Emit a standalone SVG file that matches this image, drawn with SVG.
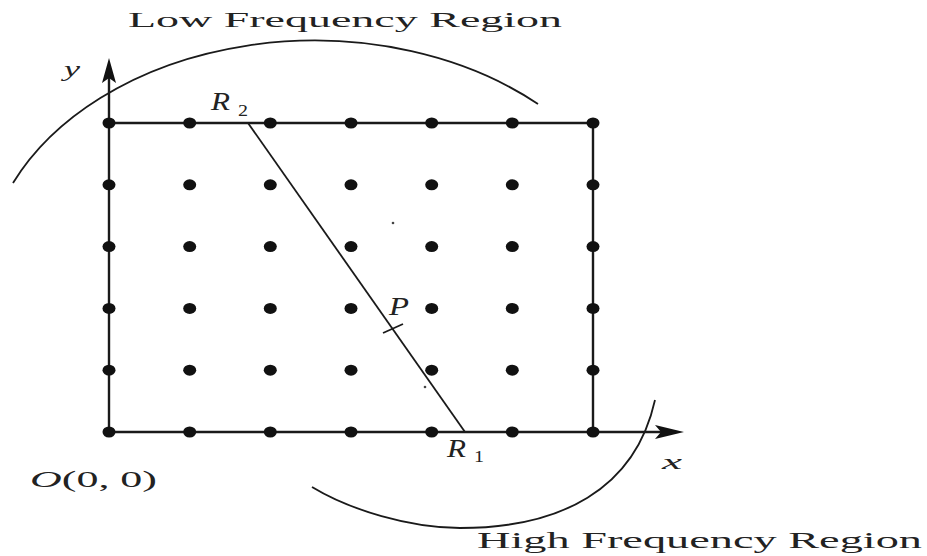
<svg xmlns="http://www.w3.org/2000/svg" width="927" height="556" viewBox="0 0 927 556">
<style>
.ln{stroke:#1a1a1a;stroke-width:2.4;fill:none}
.thin{stroke:#1a1a1a;stroke-width:1.8;fill:none}
.dot{fill:#111}
.ah{fill:#111}
.t{font-family:"Liberation Serif","DejaVu Serif",serif;fill:#222}
.it{font-style:italic}
</style>
<rect width="927" height="556" fill="#fff"/>
<g id="regions">
<path id="low-arc" class="thin" d="M13 183 A330 240 0 0 1 538 104"/>
<path id="high-arc" class="thin" d="M312 487 C350 510 410 528 460 528 C560 528 635 490 655 400"/>
</g>
<g id="connectors">
<line class="ln" x1="109" y1="432" x2="109" y2="76"/>
<line class="ln" x1="109" y1="432" x2="662" y2="432"/>
<polygon class="ah" points="109,58 102,83 109,78 116,83"/>
<polygon class="ah" points="684,432 655,425 661,432 655,439"/>
<line class="ln" x1="109" y1="123" x2="593" y2="123"/>
<line class="ln" x1="593" y1="123" x2="593" y2="432"/>
<line id="r2r1" class="thin" x1="248" y1="123" x2="465" y2="432"/>
<line id="p-mark" class="thin" x1="383" y1="333" x2="403" y2="324"/>
</g>
<g id="grid">
<g id="row1"><ellipse class="dot" cx="109" cy="123" rx="6.5" ry="5.5"/><ellipse class="dot" cx="189.7" cy="123" rx="6.5" ry="5.5"/><ellipse class="dot" cx="270.3" cy="123" rx="6.5" ry="5.5"/><ellipse class="dot" cx="351" cy="123" rx="6.5" ry="5.5"/><ellipse class="dot" cx="431.7" cy="123" rx="6.5" ry="5.5"/><ellipse class="dot" cx="512.3" cy="123" rx="6.5" ry="5.5"/><ellipse class="dot" cx="593" cy="123" rx="6.5" ry="5.5"/></g>
<g id="row2"><ellipse class="dot" cx="109" cy="184.8" rx="6.5" ry="5.5"/><ellipse class="dot" cx="189.7" cy="184.8" rx="6.5" ry="5.5"/><ellipse class="dot" cx="270.3" cy="184.8" rx="6.5" ry="5.5"/><ellipse class="dot" cx="351" cy="184.8" rx="6.5" ry="5.5"/><ellipse class="dot" cx="431.7" cy="184.8" rx="6.5" ry="5.5"/><ellipse class="dot" cx="512.3" cy="184.8" rx="6.5" ry="5.5"/><ellipse class="dot" cx="593" cy="184.8" rx="6.5" ry="5.5"/></g>
<g id="row3"><ellipse class="dot" cx="109" cy="246.6" rx="6.5" ry="5.5"/><ellipse class="dot" cx="189.7" cy="246.6" rx="6.5" ry="5.5"/><ellipse class="dot" cx="270.3" cy="246.6" rx="6.5" ry="5.5"/><ellipse class="dot" cx="351" cy="246.6" rx="6.5" ry="5.5"/><ellipse class="dot" cx="431.7" cy="246.6" rx="6.5" ry="5.5"/><ellipse class="dot" cx="512.3" cy="246.6" rx="6.5" ry="5.5"/><ellipse class="dot" cx="593" cy="246.6" rx="6.5" ry="5.5"/></g>
<g id="row4"><ellipse class="dot" cx="109" cy="308.4" rx="6.5" ry="5.5"/><ellipse class="dot" cx="189.7" cy="308.4" rx="6.5" ry="5.5"/><ellipse class="dot" cx="270.3" cy="308.4" rx="6.5" ry="5.5"/><ellipse class="dot" cx="351" cy="308.4" rx="6.5" ry="5.5"/><ellipse class="dot" cx="431.7" cy="308.4" rx="6.5" ry="5.5"/><ellipse class="dot" cx="512.3" cy="308.4" rx="6.5" ry="5.5"/><ellipse class="dot" cx="593" cy="308.4" rx="6.5" ry="5.5"/></g>
<g id="row5"><ellipse class="dot" cx="109" cy="370.2" rx="6.5" ry="5.5"/><ellipse class="dot" cx="189.7" cy="370.2" rx="6.5" ry="5.5"/><ellipse class="dot" cx="270.3" cy="370.2" rx="6.5" ry="5.5"/><ellipse class="dot" cx="351" cy="370.2" rx="6.5" ry="5.5"/><ellipse class="dot" cx="431.7" cy="370.2" rx="6.5" ry="5.5"/><ellipse class="dot" cx="512.3" cy="370.2" rx="6.5" ry="5.5"/><ellipse class="dot" cx="593" cy="370.2" rx="6.5" ry="5.5"/></g>
<g id="row6"><ellipse class="dot" cx="109" cy="432" rx="6.5" ry="5.5"/><ellipse class="dot" cx="189.7" cy="432" rx="6.5" ry="5.5"/><ellipse class="dot" cx="270.3" cy="432" rx="6.5" ry="5.5"/><ellipse class="dot" cx="351" cy="432" rx="6.5" ry="5.5"/><ellipse class="dot" cx="431.7" cy="432" rx="6.5" ry="5.5"/><ellipse class="dot" cx="512.3" cy="432" rx="6.5" ry="5.5"/><ellipse class="dot" cx="593" cy="432" rx="6.5" ry="5.5"/></g>
<circle cx="393" cy="223" r="1.3" fill="#444"/>
<circle cx="425" cy="387" r="1.3" fill="#444"/>
</g>
<g id="labels">
<text class="t" x="128" y="27" font-size="22" textLength="434" lengthAdjust="spacingAndGlyphs">Low Frequency Region</text>
<text class="t" x="477" y="548" font-size="23" textLength="445" lengthAdjust="spacingAndGlyphs">High Frequency Region</text>
<text class="t it" x="64" y="76" font-size="22" textLength="16" lengthAdjust="spacingAndGlyphs">y</text>
<text class="t it" x="662" y="469" font-size="22" textLength="20" lengthAdjust="spacingAndGlyphs">x</text>
<g id="label-r2"><text class="t it" x="211" y="110" font-size="25" textLength="19" lengthAdjust="spacingAndGlyphs">R</text><text class="t" x="238" y="116" font-size="17" textLength="10" lengthAdjust="spacingAndGlyphs">2</text></g>
<g id="label-r1"><text class="t it" x="447" y="457" font-size="25" textLength="19" lengthAdjust="spacingAndGlyphs">R</text><text class="t" x="474" y="462" font-size="17" textLength="10" lengthAdjust="spacingAndGlyphs">1</text></g>
<text class="t it" x="389" y="315" font-size="25" textLength="20" lengthAdjust="spacingAndGlyphs">P</text>
<text class="t" x="30" y="487" font-size="24" textLength="127" lengthAdjust="spacingAndGlyphs"><tspan class="it">O</tspan>(0, 0)</text>
</g>
</svg>
